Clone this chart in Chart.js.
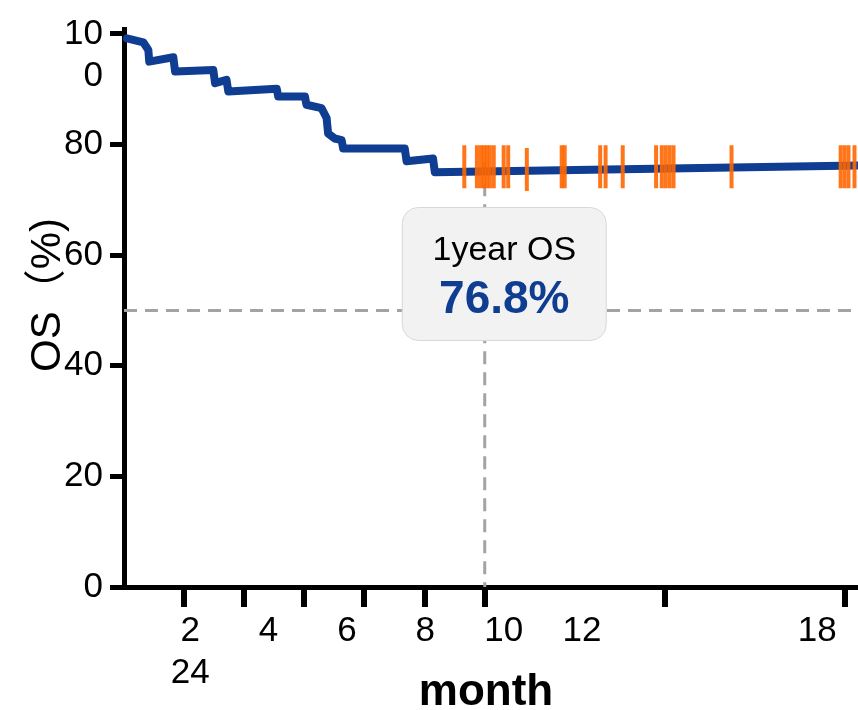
<!DOCTYPE html>
<html>
<head>
<meta charset="utf-8">
<script src="https://cdn.jsdelivr.net/npm/chart.js@4.4.0/dist/chart.umd.min.js"></script>
<style>
  html, body { margin: 0; padding: 0; background: #fff; overflow: hidden; }
  /* canvas runs a little past the window: the plot is cut at the right edge */
  #wrap { width: 883px; height: 710px; }
</style>
</head>
<body>
<div id="wrap"><canvas id="osChart"></canvas></div>
<script>
// corners of the survival curve (month, OS %)
var curveMonths = [0.1, 0.64, 0.81, 0.84, 1.64, 1.70, 2.97, 3.03, 3.41, 3.47, 5.08, 5.13, 6.02, 6.07, 6.57, 6.74, 6.79, 7.01, 7.24, 7.29, 9.34, 9.40, 10.28, 10.34, 24.4];
var curveOS = [99.2, 98.5, 97.1, 95.0, 95.8, 93.2, 93.5, 91.1, 91.7, 89.6, 90.1, 88.7, 88.7, 87.2, 86.6, 84.8, 82.0, 81.1, 80.8, 79.3, 79.3, 77.0, 77.5, 75.0, 76.2];

// censored patients
var censorMonths = [11.32, 11.74, 11.87, 11.97, 12.07, 12.17, 12.30, 12.63, 12.78, 13.40, 14.56, 14.66, 15.84, 16.02, 16.59, 17.70, 17.89, 18.02, 18.15, 18.28, 20.21, 23.84, 23.97, 24.10, 24.30];
var censorOS = [76, 76, 76, 76, 76, 76, 76, 76, 76, 75.5, 76, 76, 76, 76, 76, 76, 76, 76, 76, 76, 76, 76, 76, 76, 76];

var yTickValues = [0, 20, 40, 60, 80, 100];
var xTickValues = [2, 4, 6, 8, 10, 12, 18, 24];
var xTickLabels = ['2', '4', '6', '8', '10', '12', '18', '24'];

var oneYearMonth = 12;
var oneYearOS = 76.8;
var medianLine = 50;
var xMax = 24.4;

var blue = '#0e3d91';
var orange = 'rgba(255, 102, 0, 0.9)';
var fontFamily = '"Liberation Sans", Arial, sans-serif';

var curvePoints = curveMonths.map(function (m, i) { return { x: m, y: curveOS[i] }; });
var censorPoints = censorMonths.map(function (m, i) { return { x: m, y: censorOS[i] }; });

function roundedBox(ctx, x, y, w, h, r) {
    ctx.beginPath();
    ctx.moveTo(x + r, y);
    ctx.lineTo(x + w - r, y);
    ctx.arcTo(x + w, y, x + w, y + r, r);
    ctx.lineTo(x + w, y + h - r);
    ctx.arcTo(x + w, y + h, x + w - r, y + h, r);
    ctx.lineTo(x + r, y + h);
    ctx.arcTo(x, y + h, x, y + h - r, r);
    ctx.lineTo(x, y + r);
    ctx.arcTo(x, y, x + r, y, r);
    ctx.closePath();
}

// 1-year box and axis titles
var extrasPlugin = {
    id: 'extras',
    afterDatasetsDraw: function (chart) {
        var ctx = chart.ctx;
        var cx = chart.scales.x.getPixelForValue(12.65);
        var cy = chart.scales.y.getPixelForValue(56.6);
        var w = 204, h = 133;
        ctx.save();
        roundedBox(ctx, cx - w / 2, cy - h / 2, w, h, 16);
        ctx.fillStyle = '#f2f2f2';
        ctx.fill();
        ctx.strokeStyle = '#d9d9d9';
        ctx.lineWidth = 1;
        ctx.stroke();
        ctx.textAlign = 'center';
        ctx.textBaseline = 'alphabetic';
        ctx.fillStyle = '#000';
        ctx.font = '34px ' + fontFamily;
        ctx.fillText('1year OS', cx, cy - 14);
        ctx.fillStyle = blue;
        ctx.font = 'bold 46px ' + fontFamily;
        ctx.fillText(oneYearOS.toFixed(1) + '%', cx, cy + 39);
        ctx.restore();
    },
    afterDraw: function (chart) {
        var ctx = chart.ctx;
        ctx.save();
        ctx.fillStyle = '#000';
        ctx.textBaseline = 'alphabetic';
        ctx.textAlign = 'center';
        ctx.font = 'bold 44px ' + fontFamily;
        ctx.fillText('month', 486, 705);
        ctx.translate(60, 372);
        ctx.rotate(-Math.PI / 2);
        ctx.textAlign = 'left';
        ctx.font = '42px "Liberation Sans", Arial, "Noto Sans CJK SC", sans-serif';
        ctx.fillText('OS（%)', 0, 0);
        ctx.restore();
    }
};

var ctx = document.getElementById('osChart').getContext('2d');
var myChart = new Chart(ctx, {
    type: 'line',
    data: {
        datasets: [{
            label: 'censored',
            data: censorPoints,
            showLine: false,
            pointStyle: 'line',
            pointRotation: 90,
            pointRadius: 21.5,
            pointHoverRadius: 21.5,
            pointBorderWidth: 4,
            pointBorderColor: orange,
            borderColor: orange,
            order: 0
        }, {
            label: 'OS',
            data: curvePoints,
            borderColor: blue,
            borderWidth: 8,
            borderJoinStyle: 'round',
            borderCapStyle: 'round',
            pointRadius: 0,
            tension: 0,
            clip: false,
            order: 1
        }, {
            label: 'median',
            data: [{ x: 0, y: medianLine }, { x: xMax, y: medianLine }],
            borderColor: '#a3a3a3',
            borderWidth: 3,
            borderDash: [13, 8],
            pointRadius: 0,
            order: 2
        }, {
            label: '1 year',
            data: [{ x: oneYearMonth, y: oneYearOS }, { x: oneYearMonth, y: 0 }],
            borderColor: '#a3a3a3',
            borderWidth: 3,
            borderDash: [13, 8],
            pointRadius: 0,
            order: 2
        }]
    },
    options: {
        responsive: true,
        maintainAspectRatio: false,
        animation: false,
        layout: { padding: { top: 29, left: 0, right: 0, bottom: 0 } },
        plugins: {
            legend: { display: false },
            tooltip: { enabled: false }
        },
        events: [],
        scales: {
            x: {
                type: 'linear',
                position: 'bottom',
                weight: 0,
                min: 0,
                max: xMax,
                afterBuildTicks: function (s) { s.ticks = xTickValues.map(function (v) { return { value: v }; }); },
                afterFit: function (s) { s.height = 20; s.paddingLeft = 0; s.paddingRight = 0; },
                ticks: { display: false },
                grid: { drawOnChartArea: false, color: '#000', lineWidth: 6, tickLength: 20 },
                border: { color: '#000', width: 5 }
            },
            // tick labels as they sit in the picture, flowed in two rows
            xl: {
                type: 'linear',
                position: 'bottom',
                weight: 1,
                min: 0.311,
                max: 19.03,
                afterBuildTicks: function (s) { s.ticks = xTickValues.slice(0, -1).map(function (v) { return { value: v }; }); },
                afterFit: function (s) { s.height = 103; s.paddingLeft = 0; s.paddingRight = 0; },
                ticks: {
                    autoSkip: false,
                    maxRotation: 0,
                    padding: 3,
                    color: '#000',
                    font: { family: fontFamily, size: 35, lineHeight: 1.2 },
                    callback: function (value, index) {
                        if (index === 0) return [xTickLabels[0], xTickLabels[xTickLabels.length - 1]];
                        return xTickLabels[index];
                    }
                },
                grid: { display: false, drawTicks: false },
                border: { display: false }
            },
            y: {
                min: 0,
                max: 100.9,
                afterBuildTicks: function (s) { s.ticks = yTickValues.map(function (v) { return { value: v }; }); },
                afterFit: function (s) { s.width = 124; s.paddingTop = 0; s.paddingBottom = 0; },
                ticks: {
                    autoSkip: false,
                    padding: 7,
                    color: '#000',
                    font: { family: fontFamily, size: 35, lineHeight: 1.22 },
                    callback: function (value) {
                        var t = String(value);
                        // the 3-digit label wraps after two characters
                        if (t.length > 2) return ['', t.slice(0, 2), t.slice(2)];
                        return t;
                    }
                },
                grid: { drawOnChartArea: false, color: '#000', lineWidth: 5, tickLength: 14 },
                border: { color: '#000', width: 5 }
            }
        }
    },
    plugins: [extrasPlugin]
});
</script>
</body>
</html>
